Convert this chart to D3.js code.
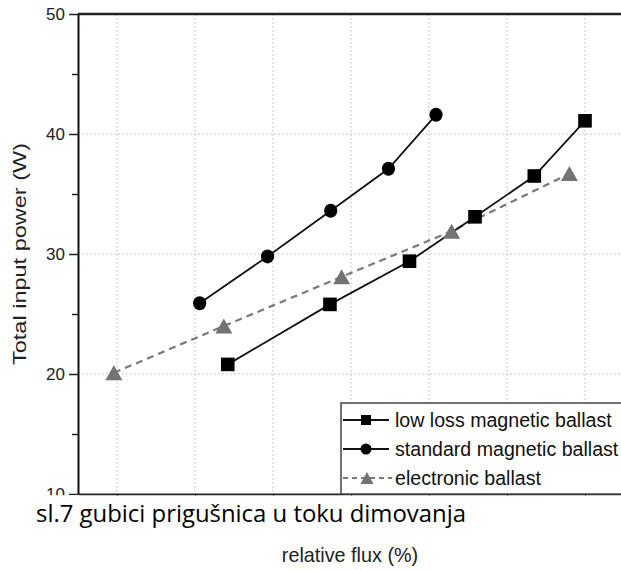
<!DOCTYPE html>
<html>
<head>
<meta charset="utf-8">
<script src="https://cdn.jsdelivr.net/npm/d3@7"></script>
<style>
  html, body { margin: 0; padding: 0; background: #fff; }
  svg { display: block; }
</style>
</head>
<body>
<div id="chart"></div>
<script>
// Relative flux (%) vs total input power (W) for three ballast types
const fluxTicks = [50, 60, 70, 80, 90, 100, 110];
const powerTicks = [10, 20, 30, 40, 50];
const powerMinorTicks = [15, 25, 35, 45];
const gridPower = [20, 30, 40];

const lowLossFlux = [64.2, 77.3, 87.5, 95.9, 103.5, 110.0];
const lowLossPower = [20.8, 25.8, 29.4, 33.1, 36.5, 41.1];

const standardFlux = [60.6, 69.3, 77.4, 84.8, 90.9];
const standardPower = [25.9, 29.8, 33.6, 37.1, 41.6];

const electronicFlux = [49.6, 63.7, 78.8, 92.9, 108.0];
const electronicPower = [20.1, 24.0, 28.1, 31.9, 36.7];

const seriesNames = ["low loss magnetic ballast", "standard magnetic ballast", "electronic ballast"];
const captionText = "sl.7 gubici prigušnica u toku dimovanja";
const xTitle = "relative flux (%)";
const yTitle = "Total input power (W)";

const W = 621, H = 570;
const svg = d3.select("#chart").append("svg")
  .attr("width", W).attr("height", H)
  .style("font-family", "'Liberation Sans', Arial, sans-serif");

svg.append("rect").attr("width", W).attr("height", H).attr("fill", "#fff");

const x = d3.scaleLinear().domain([45, 116]).range([78, 631.8]);
const y = d3.scaleLinear().domain([10, 50]).range([494, 14]);

// the chart area ends where the caption band begins
const bandTop = 495.5;
svg.append("defs").append("clipPath").attr("id", "chartArea")
  .append("rect").attr("x", 0).attr("y", 0).attr("width", W).attr("height", bandTop);

// dotted grid
const grid = svg.append("g").attr("stroke", "#b8b8b8").attr("stroke-width", 1)
  .attr("stroke-dasharray", "1.5,2.5");
grid.selectAll("line.v").data(fluxTicks).join("line").attr("class", "v")
  .attr("x1", d => x(d)).attr("x2", d => x(d))
  .attr("y1", y(50)).attr("y2", y(10));
grid.selectAll("line.h").data(gridPower).join("line").attr("class", "h")
  .attr("x1", x(45)).attr("x2", W)
  .attr("y1", d => y(d)).attr("y2", d => y(d));

// frame top line
svg.append("line").attr("x1", x(45)).attr("x2", W + 5)
  .attr("y1", y(50)).attr("y2", y(50))
  .attr("stroke", "#222").attr("stroke-width", 2.5);

// bottom axis (its labels sit under the caption band)
const xAxis = svg.append("g").attr("transform", `translate(0,${y(10)})`)
  .call(d3.axisBottom(x).tickValues(fluxTicks).tickSize(6).tickSizeOuter(0).tickFormat(""));
xAxis.select(".domain").attr("stroke", "#222").attr("stroke-width", 2);

// left axis with major and minor ticks
const yAxisWrap = svg.append("g").attr("clip-path", "url(#chartArea)");
const yAxis = yAxisWrap.append("g").attr("transform", `translate(${x(45)},0)`)
  .call(d3.axisLeft(y).tickValues(powerTicks).tickSize(9).tickPadding(4).tickSizeOuter(0));
yAxis.select(".domain").attr("stroke", "#111").attr("stroke-width", 2);
yAxis.selectAll(".tick line").attr("stroke", "#222").attr("stroke-width", 1.5);
yAxis.selectAll("text").attr("font-size", 17).attr("fill", "#222");

const yMinor = svg.append("g").attr("transform", `translate(${x(45)},0)`)
  .call(d3.axisLeft(y).tickValues(powerMinorTicks).tickSize(6).tickFormat(""));
yMinor.select(".domain").remove();
yMinor.selectAll(".tick line").attr("stroke", "#222").attr("stroke-width", 1.5);

// y title
svg.append("text")
  .attr("transform", `translate(26,${y(30)}) rotate(-90)`)
  .attr("text-anchor", "middle")
  .attr("font-size", 18.5)
  .attr("textLength", 222).attr("lengthAdjust", "spacingAndGlyphs")
  .attr("fill", "#222")
  .text(yTitle);

// series
const line = d3.line().x(d => x(d[0])).y(d => y(d[1]));
const lowLoss = lowLossFlux.map((f, i) => [f, lowLossPower[i]]);
const standard = standardFlux.map((f, i) => [f, standardPower[i]]);
const electronic = electronicFlux.map((f, i) => [f, electronicPower[i]]);

const gray = "#737373";

svg.append("path").datum(electronic).attr("d", line)
  .attr("fill", "none").attr("stroke", "#7a7a7a").attr("stroke-width", 2.2)
  .attr("stroke-dasharray", "7,5");
svg.append("path").datum(lowLoss).attr("d", line)
  .attr("fill", "none").attr("stroke", "#111").attr("stroke-width", 1.8);
svg.append("path").datum(standard).attr("d", line)
  .attr("fill", "none").attr("stroke", "#111").attr("stroke-width", 1.8);

function triPath(w, h) {
  return `M0,${-h / 2}L${w / 2},${h / 2}L${-w / 2},${h / 2}Z`;
}

svg.selectAll("path.tri").data(electronic).join("path").attr("class", "tri")
  .attr("transform", d => `translate(${x(d[0])},${y(d[1])})`)
  .attr("d", triPath(17, 15)).attr("fill", gray);

svg.selectAll("rect.sq").data(lowLoss).join("rect").attr("class", "sq")
  .attr("x", d => x(d[0]) - 6.8).attr("y", d => y(d[1]) - 6.8)
  .attr("width", 13.6).attr("height", 13.6).attr("fill", "#000");

svg.selectAll("ellipse.ci").data(standard).join("ellipse").attr("class", "ci")
  .attr("cx", d => x(d[0])).attr("cy", d => y(d[1]))
  .attr("rx", 6.6).attr("ry", 7).attr("fill", "#000");

// legend
const lg = svg.append("g");
lg.append("rect").attr("x", 341).attr("y", 403).attr("width", 300).attr("height", 91)
  .attr("fill", "#fff").attr("stroke", "#444").attr("stroke-width", 1.5);

const rowBase = [427, 456, 485];
rowBase.forEach((b, i) => {
  const cy = b - 7;
  const row = lg.append("g");
  if (i < 2) {
    row.append("line").attr("x1", 343).attr("x2", 389).attr("y1", cy).attr("y2", cy)
      .attr("stroke", "#111").attr("stroke-width", 1.8);
  } else {
    row.append("line").attr("x1", 343).attr("x2", 392).attr("y1", cy).attr("y2", cy)
      .attr("stroke", "#7a7a7a").attr("stroke-width", 2).attr("stroke-dasharray", "5,4");
  }
  if (i === 0) {
    row.append("rect").attr("x", 361).attr("y", cy - 5).attr("width", 10).attr("height", 10).attr("fill", "#000");
  } else if (i === 1) {
    row.append("circle").attr("cx", 366).attr("cy", cy).attr("r", 5.5).attr("fill", "#000");
  } else {
    row.append("path").attr("transform", `translate(367,${cy})`).attr("d", triPath(13, 12)).attr("fill", gray);
  }
  row.append("text").attr("x", 395).attr("y", b)
    .attr("font-size", 19.6).attr("fill", "#111")
    .text(seriesNames[i]);
});

// caption band
svg.append("rect").attr("x", 0).attr("y", bandTop).attr("width", W).attr("height", H - bandTop).attr("fill", "#fff");

svg.append("text").attr("x", 36).attr("y", 522)
  .attr("font-family", "'Open Sans', 'Noto Sans', sans-serif")
  .attr("font-size", 23)
  .attr("textLength", 430).attr("lengthAdjust", "spacingAndGlyphs")
  .attr("fill", "#000")
  .text(captionText);

svg.append("text").attr("x", 350).attr("y", 562)
  .attr("text-anchor", "middle")
  .attr("font-size", 19.8)
  .attr("fill", "#222")
  .text(xTitle);
</script>
</body>
</html>
